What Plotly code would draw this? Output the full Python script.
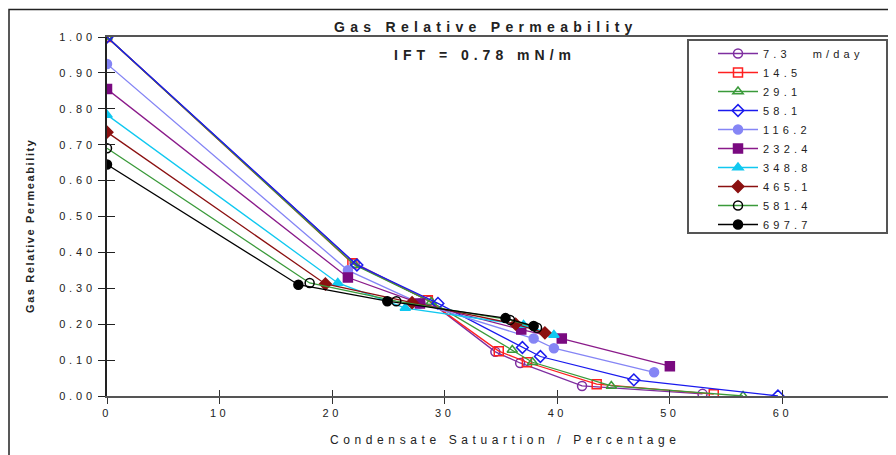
import plotly.graph_objects as go

# ---- data ----
names = ["7.3   m/day", "14.5", "29.1", "58.1", "116.2", "232.4", "348.8", "465.1", "581.4", "697.7"]

x_7_3 = [0, 22.0, 28.6, 34.5, 36.7, 42.2, 52.9]
y_7_3 = [1.00, 0.37, 0.265, 0.123, 0.092, 0.028, 0.006]

x_14_5 = [0, 21.8, 28.5, 34.8, 37.3, 43.5, 53.9]
y_14_5 = [1.00, 0.37, 0.267, 0.125, 0.094, 0.033, 0.005]

x_29_1 = [0, 22.0, 28.8, 36.0, 37.8, 44.8, 56.5]
y_29_1 = [1.00, 0.365, 0.262, 0.128, 0.094, 0.028, 0.0]

x_58_1 = [0, 22.2, 29.4, 36.9, 38.5, 46.8, 59.6]
y_58_1 = [1.00, 0.365, 0.258, 0.135, 0.110, 0.045, 0.0]

x_116_2 = [0, 21.4, 27.8, 37.9, 39.7, 48.6]
y_116_2 = [0.925, 0.350, 0.258, 0.160, 0.133, 0.066]

x_232_4 = [0, 21.4, 27.8, 36.8, 40.4, 50.0]
y_232_4 = [0.855, 0.330, 0.258, 0.185, 0.160, 0.083]

x_348_8 = [0, 20.5, 26.5, 37.0, 39.7]
y_348_8 = [0.783, 0.315, 0.245, 0.198, 0.170]

x_465_1 = [0, 19.4, 27.1, 36.3, 38.9]
y_465_1 = [0.735, 0.312, 0.260, 0.200, 0.176]

x_581_4 = [0, 18.0, 25.7, 35.8, 38.2]
y_581_4 = [0.690, 0.315, 0.264, 0.212, 0.190]

x_697_7 = [0, 17.0, 24.9, 35.4, 37.9]
y_697_7 = [0.645, 0.310, 0.264, 0.217, 0.195]

x_ticks = [0, 10, 20, 30, 40, 50, 60, 70]
y_ticks = [0.0, 0.1, 0.2, 0.3, 0.4, 0.5, 0.6, 0.7, 0.8, 0.9, 1.0]

title_text = "Gas Relative Permeability"
subtitle_text = "IFT = 0.78 mN/m"
x_title = "Condensate Satuartion / Percentage"
y_title = "Gas Relative Permeability"

series = [
    (x_7_3, y_7_3, "#7e2ea0", "#7e2ea0", "circle-open"),
    (x_14_5, y_14_5, "#ff2020", "#ff2020", "square-open"),
    (x_29_1, y_29_1, "#3a9a3a", "#3a9a3a", "triangle-up-open"),
    (x_58_1, y_58_1, "#1a1aee", "#1a1aee", "diamond-open"),
    (x_116_2, y_116_2, "#8585f5", "#8585f5", "circle"),
    (x_232_4, y_232_4, "#8a1a8a", "#7a0a80", "square"),
    (x_348_8, y_348_8, "#10c8f0", "#10c8f0", "triangle-up"),
    (x_465_1, y_465_1, "#8b1010", "#8b1010", "diamond"),
    (x_581_4, y_581_4, "#3a9a3a", "#000000", "circle-open"),
    (x_697_7, y_697_7, "#000000", "#000000", "circle"),
]


def spaced(t, ls):
    return '<span style="letter-spacing:%spx">%s</span>' % (ls, t)


fig = go.Figure()
for name, (xs, ys, lc, mc, sym) in zip(names, series):
    fig.add_trace(go.Scatter(
        x=xs, y=ys, mode="lines+markers", name=spaced(name, 4.2),
        line=dict(color=lc, width=1.3),
        marker=dict(symbol=sym, size=9, color=mc, line=dict(color=mc, width=1.5)),
    ))

# helper trace for inner half of crossing ticks
fig.add_trace(go.Scatter(x=x_ticks[:1], y=y_ticks[:1], mode="none", xaxis="x2", yaxis="y2",
                         showlegend=False, hoverinfo="skip"))

fnt = "Liberation Sans, Arial, sans-serif"
W0, Y0 = 107, 396  # screen px of plot origin (for paper conversions)
PW, PH = 788, 359


def px(sx):
    return (sx - W0) / PW


def py(sy):
    return (Y0 - sy) / PH


fig.update_layout(
    width=896, height=455,
    margin=dict(l=99, r=9, t=29, b=67),
    paper_bgcolor="white", plot_bgcolor="white",
    font=dict(family=fnt, size=11, color="#222"),
    showlegend=True,
    legend=dict(
        x=px(713), y=py(39), xanchor="left", yanchor="top",
        borderwidth=0, bgcolor="rgba(0,0,0,0)",
        font=dict(size=11, family=fnt, color="#222"),
        tracegroupgap=0, itemwidth=40,
    ),
    xaxis=dict(
        range=[0, 70], tickvals=x_ticks, ticktext=[spaced(str(v), 3.5) for v in x_ticks],
        ticks="outside", ticklen=6, tickcolor="#333", showline=True, linecolor="#555",
        linewidth=2, mirror=True, showgrid=False, zeroline=False, automargin=False,
        tickfont=dict(size=11),
    ),
    yaxis=dict(
        range=[0, 1.0], tickvals=y_ticks, ticktext=[spaced("%.2f" % v, 3.8) for v in y_ticks],
        ticks="outside", ticklen=7, tickcolor="#222", showline=True, linecolor="#222",
        linewidth=2, mirror=True, showgrid=False, zeroline=False, automargin=False,
        tickfont=dict(size=11),
    ),
    xaxis2=dict(range=[0, 70], tickvals=x_ticks, ticks="inside", ticklen=6, tickcolor="#333",
                showticklabels=False, showline=False, showgrid=False, zeroline=False,
                overlaying="x", automargin=False),
    yaxis2=dict(range=[0, 1.0], tickvals=y_ticks, ticks="inside", ticklen=8, tickcolor="#222",
                showticklabels=False, showline=False, showgrid=False, zeroline=False,
                overlaying="y", automargin=False),
    annotations=[
        dict(text="<b>" + spaced(title_text, 5.3) + "</b>", xref="paper", yref="paper",
             x=px(486), y=py(27), showarrow=False,
             font=dict(size=14, family=fnt, color="#222"), xanchor="center", yanchor="middle"),
        dict(text="<b>" + spaced(subtitle_text, 5.0) + "</b>", xref="paper", yref="paper",
             x=px(485), y=py(55), showarrow=False,
             font=dict(size=14, family=fnt, color="#222"), xanchor="center", yanchor="middle"),
        dict(text=spaced(x_title, 4.6), xref="paper", yref="paper",
             x=px(505), y=py(440), showarrow=False,
             font=dict(size=12, family=fnt, color="#222"), xanchor="center", yanchor="middle"),
        dict(text="<b>" + spaced(y_title, 1.6) + "</b>", xref="paper", yref="paper",
             x=px(30), y=py(226), showarrow=False, textangle=-90,
             font=dict(size=11, family="Liberation Sans Narrow, " + fnt, color="#222"),
             xanchor="center", yanchor="middle"),
    ],
    shapes=[
        dict(type="rect", xref="paper", yref="paper",
             x0=px(9), x1=1.05, y0=-0.3, y1=py(9.5),
             line=dict(color="#222", width=1.5), fillcolor="rgba(0,0,0,0)"),
        dict(type="rect", xref="paper", yref="paper", layer="below",
             x0=px(688), x1=px(887), y0=py(233), y1=py(40),
             line=dict(color="#555", width=2), fillcolor="white"),
    ],
)

fig.write_html("out.html")
